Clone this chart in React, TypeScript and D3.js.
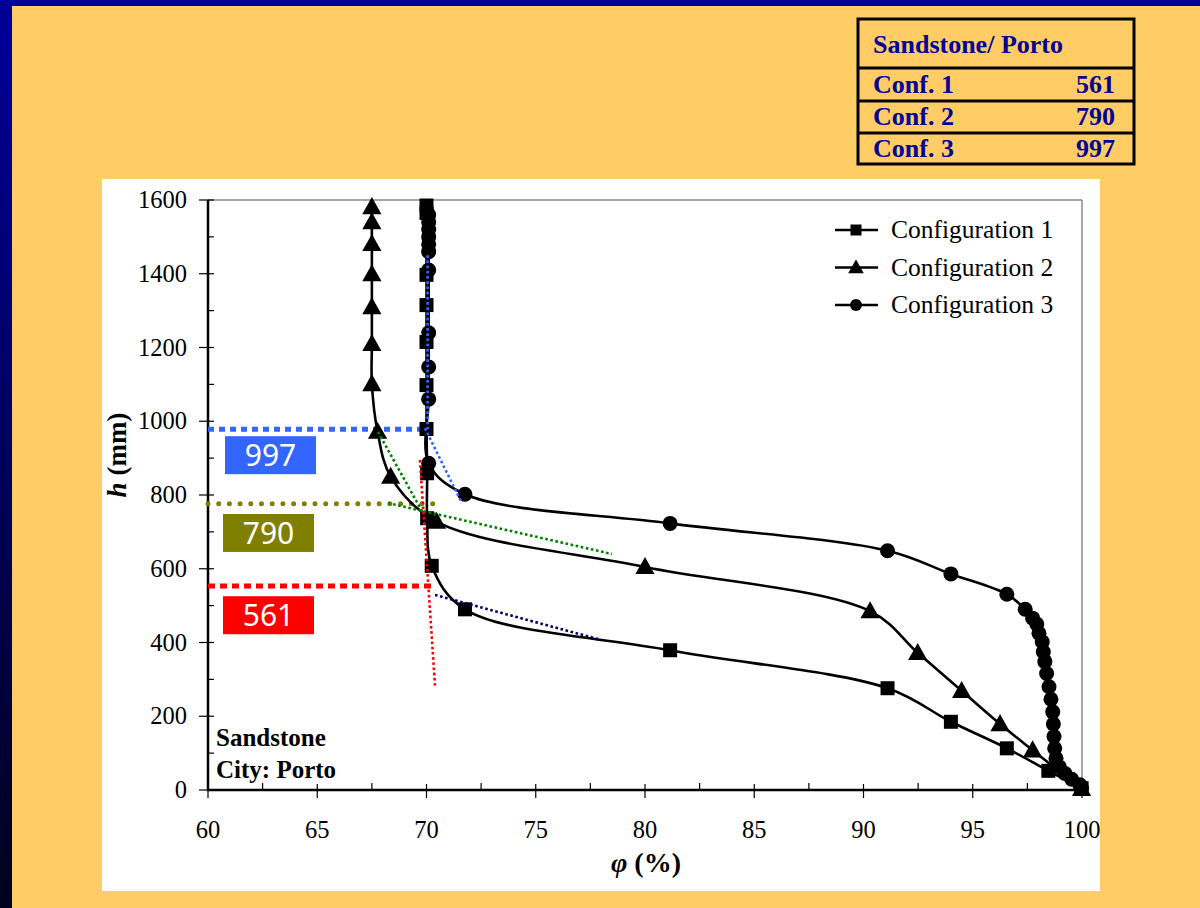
import React from "react";
import * as d3 from "d3";

// ---------- data ----------
const conf1: [number, number][] = [
  [70.0, 1585], [70.0, 1565], [70.0, 1397], [70.0, 1315], [70.0, 1215], [70.0, 1098],
  [70.0, 979], [70.03, 859], [70.03, 737], [70.24, 608], [71.76, 490], [81.15, 379],
  [91.1, 276], [94.0, 185], [96.56, 113], [98.46, 52], [99.98, 5],
];
const conf2: [number, number][] = [
  [67.5, 1581], [67.5, 1540], [67.5, 1481], [67.5, 1399], [67.5, 1310], [67.5, 1210],
  [67.5, 1101], [67.76, 972], [68.36, 850], [70.46, 728], [80.0, 605], [90.3, 485],
  [92.48, 372], [94.49, 269], [96.25, 179], [97.74, 108], [99.98, 3],
];
const conf3: [number, number][] = [
  [70.1, 1560], [70.1, 1540], [70.1, 1520], [70.1, 1500], [70.1, 1480], [70.1, 1460],
  [70.1, 1410], [70.1, 1240], [70.1, 1147], [70.1, 1060], [70.1, 886], [71.76, 802],
  [81.15, 723], [91.1, 649], [94.0, 586], [96.56, 531], [97.4, 490], [97.74, 466],
  [97.93, 450], [98.03, 425], [98.18, 402], [98.23, 375], [98.3, 348], [98.38, 316],
  [98.49, 280], [98.58, 246], [98.66, 212], [98.69, 179], [98.72, 145], [98.75, 113],
  [98.81, 86], [98.96, 63], [99.22, 45], [99.53, 29], [99.9, 14], [99.98, 5],
];
const seriesNames = ["Configuration 1", "Configuration 2", "Configuration 3"];
const xTicks = [60, 65, 70, 75, 80, 85, 90, 95, 100];
const yTicks = [0, 200, 400, 600, 800, 1000, 1200, 1400, 1600];
const tableHeader = "Sandstone/ Porto";
const tableRows = ["Conf. 1", "Conf. 2", "Conf. 3"];
const tableValues = [561, 790, 997];

// guide lines (phi, h)
const blueLevel: [number, number][] = [[60, 978], [70.1, 978]];
const blueVert: [number, number][] = [[70.05, 1450], [70.05, 978]];
const blueDiag: [number, number][] = [[69.93, 981], [71.62, 778]];
const oliveLevel: [number, number][] = [[60, 776], [70.4, 776]];
const greenSteep: [number, number][] = [[67.78, 971], [69.84, 751]];
const greenShallow: [number, number][] = [[68.24, 778], [78.49, 640]];
const redLevel: [number, number][] = [[60, 553], [70.3, 553]];
const redSteep: [number, number][] = [[69.7, 895], [70.39, 282]];
const navyTangent: [number, number][] = [[70.39, 529], [77.99, 407]];
const labelLevels = [908, 697, 474]; // box centres (h) for 997, 790, 561

export default function App() {
  const x = d3.scaleLinear().domain([60, 100]).range([208, 1082]);
  const y = d3.scaleLinear().domain([0, 1600]).range([790, 200]);
  const line = d3
    .line<[number, number]>()
    .x((d) => x(d[0]))
    .y((d) => y(d[1]))
    .curve(d3.curveCatmullRom.alpha(0.5));
  const straight = d3
    .line<[number, number]>()
    .x((d) => x(d[0]))
    .y((d) => y(d[1]));

  const minorX = d3.range(62.5, 100, 5);
  const minorY = d3.range(100, 1600, 200);

  const square = (cx: number, cy: number, s: number, k: string) => (
    <rect key={k} x={cx - s / 2} y={cy - s / 2} width={s} height={s} fill="#000" />
  );
  const tri = (cx: number, cy: number, s: number, k: string) => (
    <path
      key={k}
      d={`M${cx},${cy - s * 0.62} L${cx + s * 0.6},${cy + s * 0.45} L${cx - s * 0.6},${cy + s * 0.45} Z`}
      fill="#000"
    />
  );
  const circ = (cx: number, cy: number, r: number, k: string) => (
    <circle key={k} cx={cx} cy={cy} r={r} fill="#000" />
  );

  const serif = "'Liberation Serif', 'Times New Roman', serif";
  const fine = { strokeWidth: 2.6, strokeDasharray: "2.6 2.6", fill: "none" };

  const boxes = [
    { v: "997", c: "#3366FF", h: labelLevels[0] },
    { v: "790", c: "#808000", h: labelLevels[1] },
    { v: "561", c: "#FF0000", h: labelLevels[2] },
  ];

  return (
    <svg
      width={1200}
      height={908}
      style={{ position: "absolute", left: 0, top: 0, display: "block" }}
    >
      <defs>
        <linearGradient id="edge" x1="0" y1="0" x2="0" y2="1">
          <stop offset="0" stopColor="#000099" />
          <stop offset="1" stopColor="#00001e" />
        </linearGradient>
        <clipPath id="panel">
          <rect x={102} y={179} width={998} height={712} />
        </clipPath>
      </defs>
      <rect x={0} y={0} width={1200} height={908} fill="url(#edge)" />
      <rect x={0} y={0} width={1200} height={6} fill="#000099" />
      <rect x={12} y={6} width={1188} height={902} fill="#FFCC66" />

      {/* table */}
      <g fontFamily={serif} fontWeight="bold" fontSize={26} fill="#000099">
        <rect x={858} y={19} width={276} height={145} fill="none" stroke="#000" strokeWidth={3} />
        {[68, 101, 133].map((yy) => (
          <line key={yy} x1={858} x2={1134} y1={yy} y2={yy} stroke="#000" strokeWidth={3} />
        ))}
        <text x={873} y={53}>{tableHeader}</text>
        {tableRows.map((r, i) => (
          <g key={r}>
            <text x={873} y={93 + i * 32}>{r}</text>
            <text x={1115} y={93 + i * 32} textAnchor="end">{tableValues[i]}</text>
          </g>
        ))}
      </g>

      {/* white panel */}
      <rect x={102} y={179} width={998} height={712} fill="#fff" />

      <g clipPath="url(#panel)">
        {/* frame top/right */}
        <line x1={208} x2={1082} y1={200} y2={200} stroke="#888" strokeWidth={1.5} />
        <line x1={1082} x2={1082} y1={200} y2={790} stroke="#888" strokeWidth={1.5} />

        {/* axes */}
        <line x1={208} x2={208} y1={200} y2={791} stroke="#000" strokeWidth={2.5} />
        <line x1={207} x2={1082} y1={790} y2={790} stroke="#000" strokeWidth={2.5} />
        {yTicks.map((t) => (
          <line key={"yt" + t} x1={199} x2={214} y1={y(t)} y2={y(t)} stroke="#000" strokeWidth={1.2} />
        ))}
        {minorY.map((t) => (
          <line key={"ym" + t} x1={208} x2={214} y1={y(t)} y2={y(t)} stroke="#000" strokeWidth={1.2} />
        ))}
        {xTicks.map((t) => (
          <line key={"xt" + t} x1={x(t)} x2={x(t)} y1={784} y2={798} stroke="#000" strokeWidth={1.2} />
        ))}
        {minorX.map((t) => (
          <line key={"xm" + t} x1={x(t)} x2={x(t)} y1={783} y2={790} stroke="#000" strokeWidth={1.2} />
        ))}
        <g fontFamily={serif} fontSize={24.5} fill="#000">
          {yTicks.map((t) => (
            <text key={"yl" + t} x={187} y={y(t) + 8} textAnchor="end">{t}</text>
          ))}
          {xTicks.map((t) => (
            <text key={"xl" + t} x={x(t)} y={838} textAnchor="middle">{t}</text>
          ))}
        </g>

        {/* axis titles */}
        <text
          transform="translate(126,455) rotate(-90)"
          textAnchor="middle"
          fontFamily={serif}
          fontSize={27}
          fontWeight="bold"
        >
          <tspan fontStyle="italic">h</tspan> (mm)
        </text>
        <text x={646} y={872} textAnchor="middle" fontFamily={serif} fontSize={28} fontWeight="bold">
          <tspan fontStyle="italic">φ</tspan> (%)
        </text>

        {/* guide lines */}
        <path d={straight(blueLevel)!} stroke="#3366FF" strokeWidth={5} strokeDasharray="6 5" fill="none" />
        <path d={straight(oliveLevel)!} stroke="#808000" strokeWidth={5} strokeDasharray="0 10.7" strokeLinecap="round" fill="none" />
        <path d={straight(redLevel)!} stroke="#FF0000" strokeWidth={5} strokeDasharray="7 5" fill="none" />

        {/* series lines */}
        {[conf1, conf2, conf3].map((s, i) => (
          <path key={"l" + i} d={line(s)!} stroke="#000" strokeWidth={2.6} fill="none" />
        ))}
        {conf1.map((d, i) => square(x(d[0]), y(d[1]), 14, "s" + i))}
        {conf2.map((d, i) => tri(x(d[0]), y(d[1]), 16, "t" + i))}
        {conf3.map((d, i) => circ(x(d[0]), y(d[1]), 7.5, "c" + i))}

        {/* fine tangents on top */}
        <path d={straight(blueVert)!} stroke="#3366FF" {...fine} />
        <path d={straight(blueDiag)!} stroke="#3366FF" {...fine} />
        <path d={straight(greenSteep)!} stroke="#008000" {...fine} />
        <path d={straight(greenShallow)!} stroke="#008000" {...fine} />
        <path d={straight(redSteep)!} stroke="#FF0000" {...fine} />
        <path d={straight(navyTangent)!} stroke="#000066" {...fine} />

        {/* value boxes */}
        {boxes.map((b, i) => (
          <g key={b.v}>
            <rect x={i === 0 ? 225 : 223} y={y(b.h) - 19} width={91} height={38} fill={b.c} />
            <text
              x={(i === 0 ? 225 : 223) + 45.5}
              y={y(b.h) + 11}
              textAnchor="middle"
              fill="#fff"
              fontFamily="'Noto Sans', sans-serif"
              fontSize={30}
            >
              {b.v}
            </text>
          </g>
        ))}

        {/* annotation */}
        <g fontFamily={serif} fontWeight="bold" fontSize={25}>
          <text x={216} y={746}>Sandstone</text>
          <text x={216} y={778}>City: Porto</text>
        </g>

        {/* legend */}
        {seriesNames.map((n, i) => {
          const cy = 230 + i * 37.5;
          return (
            <g key={n}>
              <line x1={835} x2={878} y1={cy} y2={cy} stroke="#000" strokeWidth={2.6} />
              {i === 0 && square(856, cy, 11, "ls")}
              {i === 1 && tri(856, cy, 13, "lt")}
              {i === 2 && circ(856, cy, 6, "lc")}
              <text x={891} y={cy + 8} fontFamily={serif} fontSize={25.5}>{n}</text>
            </g>
          );
        })}
      </g>
    </svg>
  );
}
